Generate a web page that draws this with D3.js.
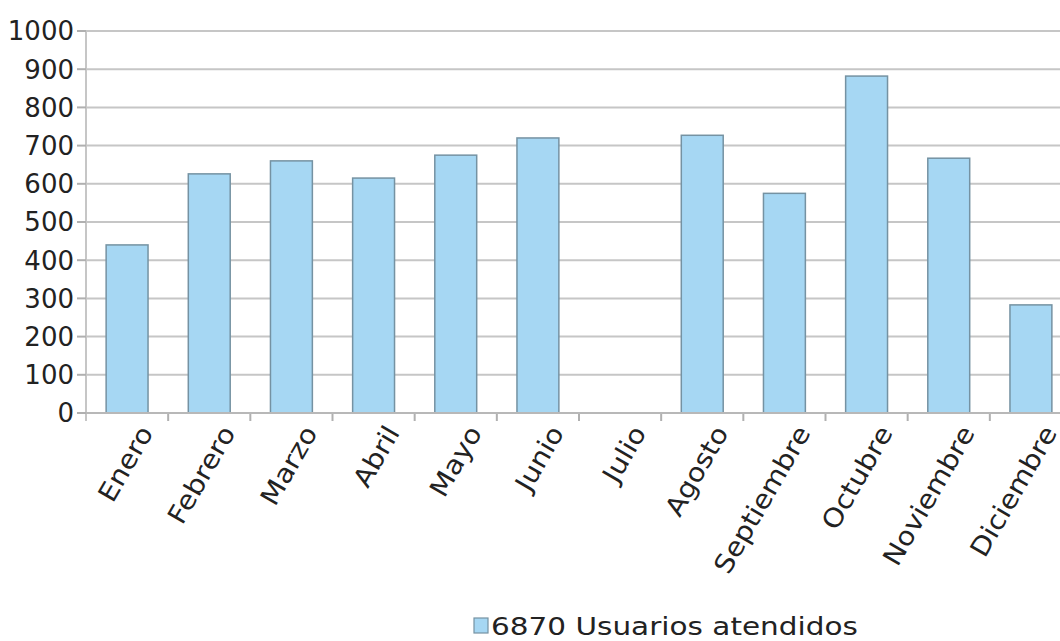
<!DOCTYPE html>
<html>
<head>
<meta charset="utf-8">
<script src="https://cdn.jsdelivr.net/npm/d3@7"></script>
<style>
  body { margin: 0; background: #fff; }
  text { font-family: "DejaVu Sans", Verdana, sans-serif; fill: #222; }
</style>
</head>
<body>
<div id="chart"></div>
<script>
// data
var months = ["Enero", "Febrero", "Marzo", "Abril", "Mayo", "Junio", "Julio",
  "Agosto", "Septiembre", "Octubre", "Noviembre", "Diciembre"];
var usuarios = [440, 626, 660, 615, 675, 720, 0, 727, 575, 882, 667, 283];
var yTicks = [0, 100, 200, 300, 400, 500, 600, 700, 800, 900, 1000];
var legendLabel = "6870 Usuarios atendidos";

var W = 1060, H = 641;
var margin = {left: 86, top: 31};
var plotW = 986, plotH = 382;
var stretch = 1.1; // the original font runs wider than DejaVu

var svg = d3.select("#chart").append("svg")
  .attr("width", W).attr("height", H);

var g = svg.append("g").attr("transform", "translate(" + margin.left + "," + margin.top + ")");

var x = d3.scaleBand().domain(months).range([0, plotW]).paddingInner(0.49).paddingOuter(0.245);
var xb = d3.scaleBand().domain(months).range([0, plotW]);
var y = d3.scaleLinear().domain([0, 1000]).range([plotH, 0]);

// gridlines
g.selectAll(".grid").data(yTicks).enter().append("line")
  .attr("x1", 0).attr("x2", plotW)
  .attr("y1", function(d){ return y(d); }).attr("y2", function(d){ return y(d); })
  .attr("stroke", "#c6c6c6").attr("stroke-width", 2);

// y axis line + ticks
g.append("line").attr("x1", 0).attr("x2", 0).attr("y1", 0).attr("y2", plotH + 8)
  .attr("stroke", "#c6c6c6").attr("stroke-width", 2);
g.selectAll(".ytick").data(yTicks).enter().append("line")
  .attr("x1", -9).attr("x2", 0)
  .attr("y1", function(d){ return y(d); }).attr("y2", function(d){ return y(d); })
  .attr("stroke", "#b0b0b0").attr("stroke-width", 2);
g.selectAll(".ylab").data(yTicks).enter().append("text")
  .attr("x", -12).attr("y", function(d){ return y(d); })
  .attr("dy", "0.36em")
  .attr("text-anchor", "end")
  .style("font-size", "26px")
  .text(function(d){ return d; });

// x ticks
g.selectAll(".xtick").data(months).enter().append("line")
  .attr("x1", function(d){ return xb(d) + xb.bandwidth(); })
  .attr("x2", function(d){ return xb(d) + xb.bandwidth(); })
  .attr("y1", plotH).attr("y2", plotH + 8)
  .attr("stroke", "#b0b0b0").attr("stroke-width", 2);

// bars
g.selectAll(".bar").data(months).enter().append("rect")
  .filter(function(d, i){ return usuarios[i] > 0; })
  .attr("x", function(d){ return x(d); })
  .attr("width", x.bandwidth())
  .attr("y", function(d){ return y(usuarios[months.indexOf(d)]); })
  .attr("height", function(d){ return plotH - y(usuarios[months.indexOf(d)]); })
  .attr("fill", "#a6d7f3")
  .attr("stroke", "#7592a2").attr("stroke-width", 1.5);

// x axis line
g.append("line").attr("x1", 0).attr("x2", plotW).attr("y1", plotH).attr("y2", plotH)
  .attr("stroke", "#b8b8b8").attr("stroke-width", 2);

// x labels
g.selectAll(".xlab").data(months).enter().append("text")
  .attr("transform", function(d){
    return "translate(" + (xb(d) + xb.bandwidth() / 2 + 19) + "," + (plotH + 15) + ") rotate(-60)";
  })
  .attr("text-anchor", "end")
  .attr("dy", "0.35em")
  .style("font-size", "26px")
  .text(function(d){ return d; })
  .each(function(){
    var len = this.getComputedTextLength();
    d3.select(this).attr("textLength", len * stretch).attr("lengthAdjust", "spacingAndGlyphs");
  });

// legend
svg.append("rect").attr("x", 474).attr("y", 618).attr("width", 14).attr("height", 15)
  .attr("fill", "#a6d7f3").attr("stroke", "#7592a2").attr("stroke-width", 1.2);
svg.append("text").attr("x", 491).attr("y", 635)
  .style("font-size", "25px")
  .text(legendLabel)
  .each(function(){
    var len = this.getComputedTextLength();
    d3.select(this).attr("textLength", len * 1.18).attr("lengthAdjust", "spacingAndGlyphs");
  });
</script>
</body>
</html>
